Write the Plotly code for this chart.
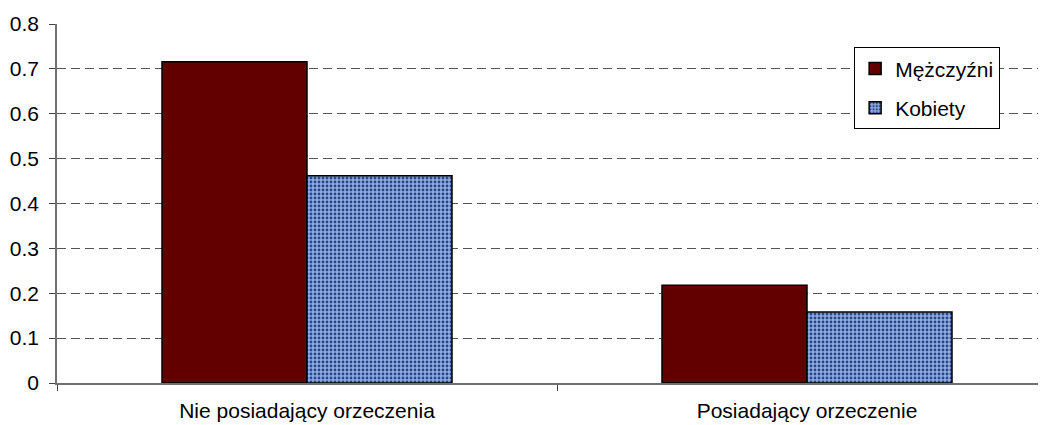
import plotly.graph_objects as go

categories = ["Nie posiadający orzeczenia", "Posiadający orzeczenie"]
men_values = [0.716, 0.218]
women_values = [0.462, 0.158]
series_names = ["Mężczyźni", "Kobiety"]
y_ticks = [0, 0.1, 0.2, 0.3, 0.4, 0.5, 0.6, 0.7, 0.8]
y_tick_labels = ["0", "0.1", "0.2", "0.3", "0.4", "0.5", "0.6", "0.7", "0.8"]

FONT = "Arial, Liberation Sans, sans-serif"

fig = go.Figure()
fig.add_trace(go.Bar(
    x=categories, y=men_values, name=series_names[0],
    legendgroup="m",
    marker=dict(color="#620000", line=dict(color="#000000", width=1.5)),
))
fig.add_trace(go.Bar(
    x=categories, y=women_values, name=series_names[1],
    legendgroup="k",
    marker=dict(
        color="#86a2d8",
        line=dict(color="#000000", width=1.5),
        pattern=dict(shape=".", bgcolor="#90ace2", fgcolor="#2a4684",
                     size=4, solidity=0.4, fillmode="replace"),
    ),
))

# page body has an 8px margin, so the figure is sized 8px smaller
fig.update_layout(
    width=1038, height=417,
    margin=dict(l=49, r=0, t=16, b=42),
    paper_bgcolor="white", plot_bgcolor="white",
    barmode="group", bargap=0.42, bargroupgap=0,
    font=dict(family=FONT, size=21, color="#000000"),
    showlegend=True,
    legend=dict(
        x=0.806, y=0.935, xanchor="left", yanchor="top",
        bordercolor="#000000", borderwidth=1, bgcolor="white",
        font=dict(family=FONT, size=21, color="#000000"),
        tracegroupgap=9,
    ),
    xaxis=dict(
        type="category", range=[-0.5, 1.478], automargin=False,
        tickson="boundaries", ticks="outside", ticklen=6,
        tickcolor="#404040", tickwidth=1, ticklabelstandoff=8,
        showline=True, linecolor="#707070", linewidth=1.5,
        showgrid=False, zeroline=False,
        tickfont=dict(family=FONT, size=21, color="#000000"),
    ),
    yaxis=dict(
        range=[0, 0.8], tickvals=y_ticks, ticktext=y_tick_labels,
        automargin=False, ticklabelstandoff=6,
        ticks="outside", ticklen=6, tickcolor="#404040",
        showline=True, linecolor="#707070", linewidth=1.5,
        showgrid=True, gridcolor="#555555", gridwidth=1, griddash="9px,5px",
        zeroline=False,
        tickfont=dict(family=FONT, size=21, color="#000000"),
    ),
)

fig.write_html("out.html")
